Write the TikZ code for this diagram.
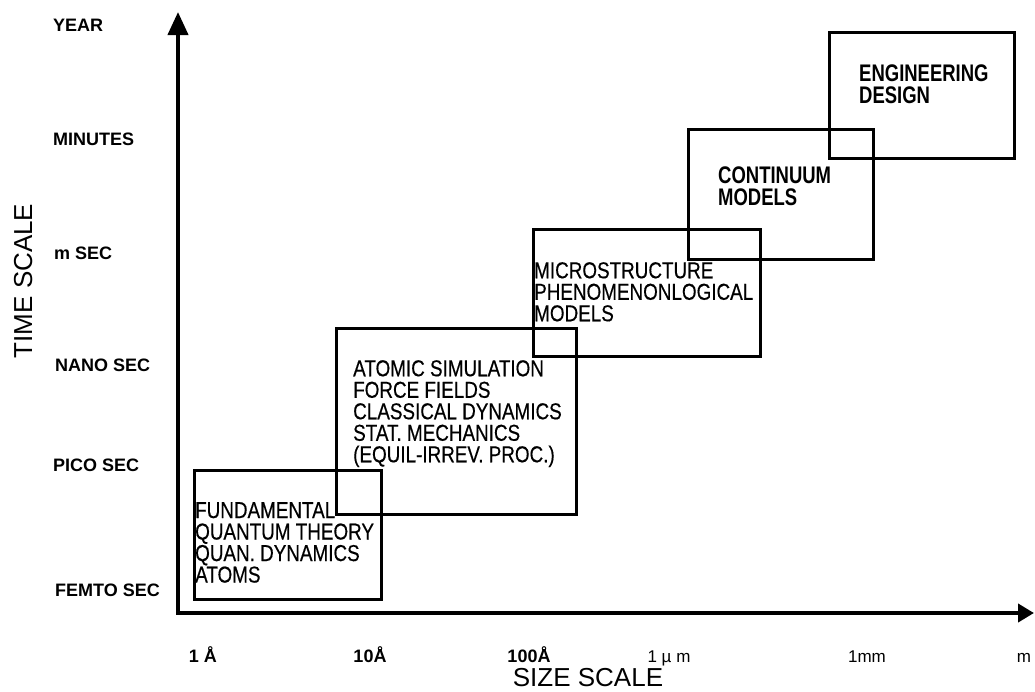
\documentclass[tikz,border=0pt]{standalone}
\usepackage{fontspec}
\setmainfont{Liberation Sans}
\newfontfamily\narrowfont[FakeStretch=0.82,FakeBold=0.4]{Liberation Sans}
\newfontfamily\boldnarrow[FakeStretch=0.77]{Liberation Sans}
\usetikzlibrary{arrows.meta}
\begin{document}
\begin{tikzpicture}[x=1pt,y=-1pt,
  axis/.style={line width=4pt},
  box/.style={draw, line width=3pt, inner sep=0pt, anchor=north west},
  boxtext/.style={anchor=north west, inner sep=0pt, align=left,
    font=\narrowfont\fontsize{23}{21.5}\selectfont},
  boldtext/.style={anchor=north west, inner sep=0pt, align=left,
    font=\boldnarrow\bfseries\fontsize{24}{21.7}\selectfont},
  tlabel/.style={anchor=base west, inner sep=0pt, font=\bfseries\fontsize{18}{20}\selectfont},
  slabel/.style={anchor=base, inner sep=0pt, font=\bfseries\fontsize{18}{20}\selectfont},
  slabelr/.style={anchor=base, inner sep=0pt, font=\fontsize{17}{20}\selectfont},
  title/.style={anchor=base, inner sep=0pt, font=\fontsize{26}{30}\selectfont}]
\useasboundingbox (0,0) rectangle (1035,691);

% axes
\coordinate (origin) at (178,613);
\coordinate (ytip) at (178,12);
\coordinate (xtip) at (1034,613);
\draw[axis, {Triangle[width=20pt,length=23pt]}-{Triangle[width=18pt,length=16pt]}]
  (ytip) -- (origin) -- (xtip);

% boxes
\node[box, minimum width=187pt, minimum height=129pt] (b1) at (193,469) {};
\node[box, minimum width=240pt, minimum height=186pt] (b2) at (335,327) {};
\node[box, minimum width=227pt, minimum height=127pt] (b3) at (532,228) {};
\node[box, minimum width=185pt, minimum height=130pt] (b4) at (687,128) {};
\node[box, minimum width=185pt, minimum height=126pt] (b5) at (828,31) {};

% box texts
\node[boxtext] (t1) at (195,502) {FUNDAMENTAL\\QUANTUM THEORY\\QUAN. DYNAMICS\\ATOMS};
\node[boxtext] (t2) at (353,360) {ATOMIC SIMULATION\\FORCE FIELDS\\CLASSICAL DYNAMICS\\STAT. MECHANICS\\(EQUIL-IRREV. PROC.)};
\node[boxtext] (t3) at (534,262) {MICROSTRUCTURE\\PHENOMENONLOGICAL\\MODELS};
\node[boldtext] (t4) at (718,167) {CONTINUUM\\MODELS};
\node[boldtext] (t5) at (859,65) {ENGINEERING\\DESIGN};

% time labels
\node[tlabel] (year) at (53,31.5) {YEAR};
\node[tlabel] (minutes) at (53,145.5) {MINUTES};
\node[tlabel] (msec) at (54,259.5) {m SEC};
\node[tlabel] (nano) at (55,371.5) {NANO SEC};
\node[tlabel] (pico) at (53,471.5) {PICO SEC};
\node[tlabel] (femto) at (55,596.5) {FEMTO SEC};

% size labels
\node[slabel] (s1) at (203,662) {1 Å};
\node[slabel] (s2) at (370,662) {10Å};
\node[slabel] (s3) at (529,662) {100Å};
\node[slabelr] (s4) at (669,662) {1 µ m};
\node[slabelr] (s5) at (867,662) {1mm};
\node[slabelr] (s6) at (1024,662) {m};

% axis titles
\node[title] (sizescale) at (588,686) {SIZE SCALE};
\node[title, rotate=90] (timescale) at (32,281) {TIME SCALE};
\end{tikzpicture}
\end{document}
